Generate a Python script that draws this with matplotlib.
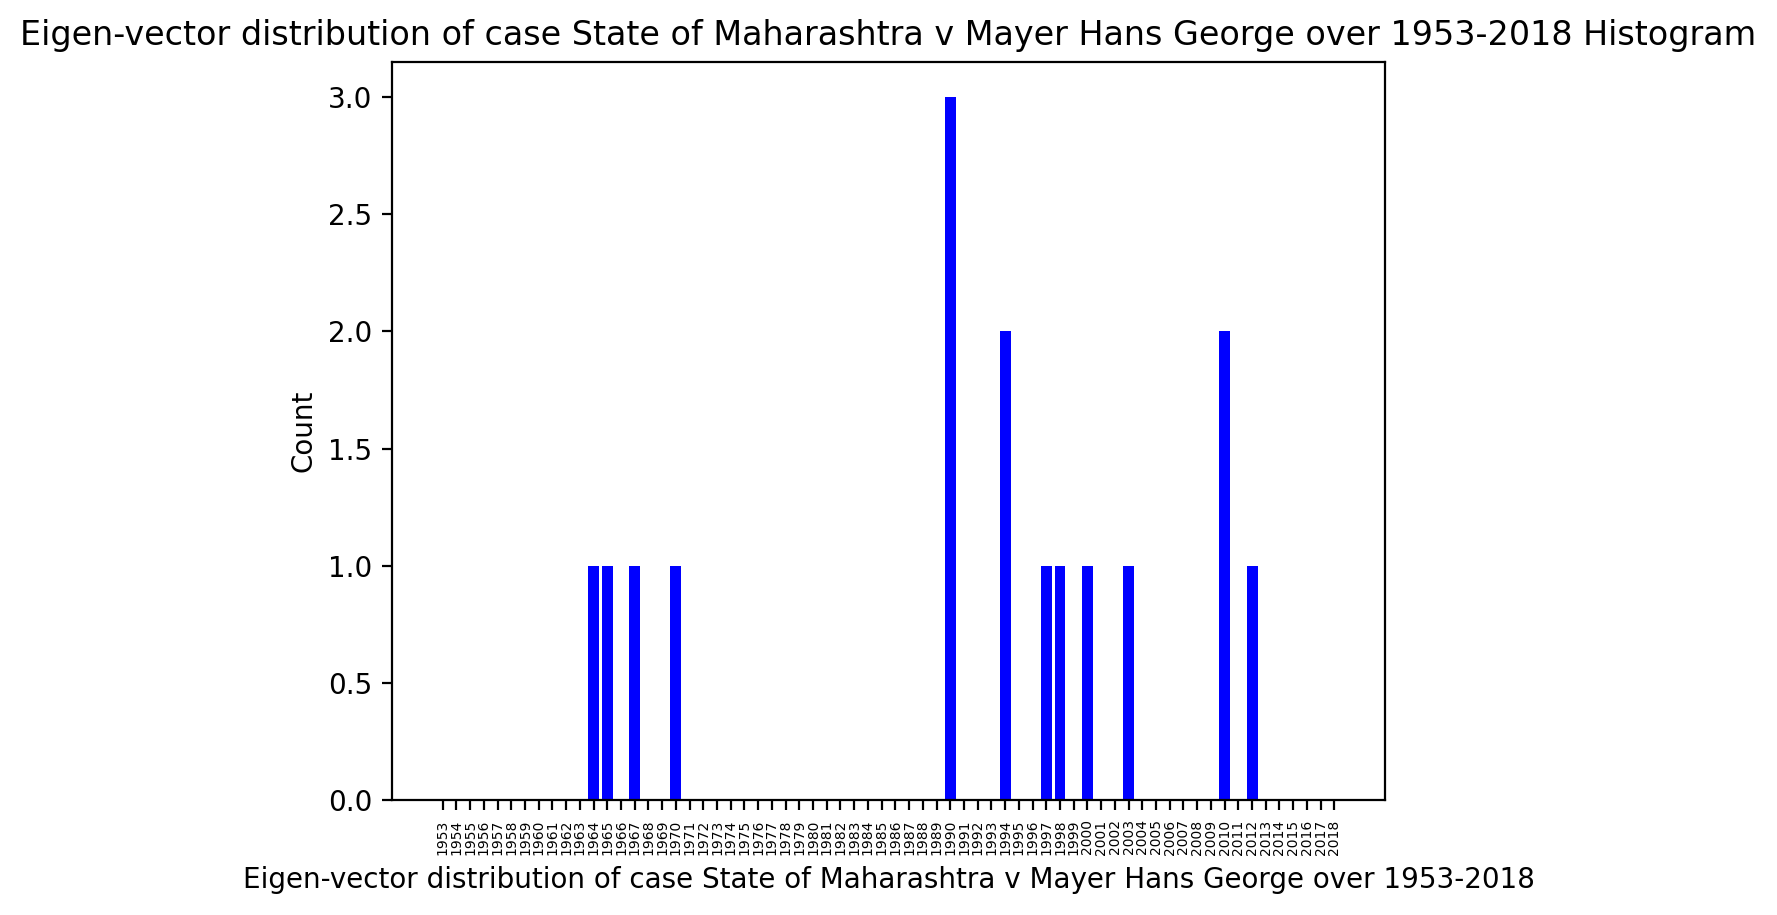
import matplotlib
matplotlib.use("Agg")
import matplotlib.pyplot as plt

years = list(range(1953, 2019))
nonzero_years = [1964, 1965, 1967, 1970, 1990, 1994, 1997, 1998, 2000, 2003, 2010, 2012]
nonzero_counts = [1, 1, 1, 1, 3, 2, 1, 1, 1, 1, 2, 1]
counts_map = dict(zip(nonzero_years, nonzero_counts))
counts = [counts_map.get(y, 0) for y in years]
tick_labels = [str(y) for y in years]

title = "Eigen-vector distribution of case State of Maharashtra v Mayer Hans George over 1953-2018"

fig = plt.figure(figsize=(1777 / 200, 915 / 200), dpi=200)
ax = fig.add_axes([392 / 1777, 1 - 800 / 915, (1385 - 392) / 1777, (800 - 62) / 915])
ax.bar(years, counts, width=0.8, color="blue")
ax.set_xticks(years)
ax.set_xticklabels(tick_labels, rotation=90, fontsize=5)
ax.set_ylabel("Count")
ax.set_xlabel(title)
ax.set_title(title + " Histogram")
fig.savefig("out.png", dpi=200)
